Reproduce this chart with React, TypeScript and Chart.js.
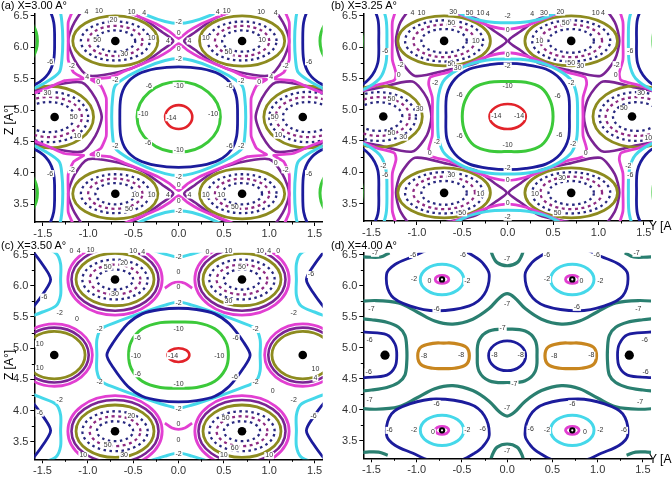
import React, { useEffect, useRef } from 'react';
import { Chart, registerables } from 'chart.js';

Chart.register(...registerables);

type P = [number, number];
type Lbl = [number, number, string];

// ---------------- axes ----------------
const xTickValues = [-1.5, -1.0, -0.5, 0.0, 0.5, 1.0, 1.5];
const zTickValues = [3.5, 4.0, 4.5, 5.0, 5.5, 6.0, 6.5];
const xMinorTicks = [-1.25, -0.75, -0.25, 0.25, 0.75, 1.25];
const zMinorTicks = [3.75, 4.25, 4.75, 5.25, 5.75, 6.25];
const yAxisRange: P = [-1.59, 1.59];
const zAxisRange: P = [3.22, 6.53];
const panelTags = ['(a)', '(b)', '(c)', '(d)'];
const panelNames = ['X=3.00 A°', 'X=3.25 A°', 'X=3.50 A°', 'X=4.00 A°'];

// ---------------- honeycomb lattice, panels (a)-(c) ----------------
const atomCenters: P[] = [[-0.7, 6.1], [0.7, 6.1], [-0.7, 3.67], [0.7, 3.67], [-1.37, 4.89], [1.37, 4.89]];
const atomBondDir = [1, -1, 1, -1, -1, 1];
const atomIsSide = [false, false, false, false, true, true];

// (a) X = 3.00
const aHolesMain: P[] = [[0, 4.89], [-2.02, 6.1], [2.02, 6.1], [-2.02, 3.68], [2.02, 3.68]];
const aHolesOuter: P[] = [[0, 7.31], [0, 2.47]];
const aRed: P = [0.15, 0.19];
const aGreenQ: P[] = [[0.46, 0], [0, 0.56]];
const aBlueQ: P[] = [[0.65, 0], [0.64, 0.3], [0.58, 0.52], [0.45, 0.68], [0.25, 0.77], [0, 0.8]];
const aCyanQ: P[] = [[0.74, 0], [0.73, 0.3], [0.7, 0.5], [0.55, 0.66], [0.35, 0.8], [0.15, 0.9], [0, 0.93]];
const aMagentaQ: P[] = [[0.8, 0], [0.8, 0.3], [0.86, 0.5], [0.97, 0.6], [0.76, 0.63], [0.6, 0.73], [0.41, 0.84], [0.23, 0.95], [0.1, 1.06], [0, 1.17]];
const aBondLoop: P[] = [[0.64, 0], [0.52, 0.14], [0.3, 0.36], [0.05, 0.49], [-0.3, 0.55], [-0.45, 0.3], [-0.52, 0], [-0.45, -0.3], [-0.3, -0.55], [0.05, -0.49], [0.3, -0.36], [0.52, -0.14]];
const aTopLevels = [50, 30, 20, 10];
const aTopRx = [0.22, 0.3, 0.38, 0.47];
const aTopRz = [0.17, 0.24, 0.31, 0.4];
const aSideLevels = [50, 30, 20, 10];
const aSideRx = [0.28, 0.36, 0.43, 0.49];
const aSideRz = [0.24, 0.32, 0.4, 0.49];
const aSideShift = 0.06;
const aLabels: Lbl[] = [
  [-0.08, 4.88, '-14'],
  [0, 5.39, '-10'], [-0.39, 4.93, '-10'], [0.38, 4.93, '-10'], [0, 4.36, '-10'],
  [-0.33, 5.39, '-6'], [0.56, 5.39, '-6'], [-0.34, 4.48, '-6'], [0.56, 4.43, '-6'],
  [0, 5.82, '-2'], [0, 3.94, '-2'], [0, 6.4, '-2'], [0, 3.4, '-2'],
  [-0.7, 5.48, '-2'], [0.69, 5.46, '-2'], [-0.7, 4.43, '-2'], [0.69, 4.43, '-2'],
  [-1.18, 5.7, '-2'], [1.18, 5.7, '-2'], [-1.18, 4.05, '-2'], [1.18, 4.05, '-2'],
  [-1.42, 5.77, '-6'], [1.44, 5.77, '-6'], [-1.42, 3.99, '-6'], [1.44, 3.99, '-6'],
  [0, 6.23, '0'], [0, 5.97, '0'], [0, 3.8, '0'], [0, 3.55, '0'],
  [-0.89, 5.45, '0'], [0.89, 5.45, '0'], [-0.89, 4.29, '0'], [1.07, 4.16, '0'],
  [-0.12, 6.1, '4'], [0.12, 6.1, '4'], [-0.12, 3.65, '4'], [0.12, 3.65, '4'],
  [-1.01, 5.53, '4'], [1.02, 5.53, '4'],
  [-0.3, 6.14, '10'], [0.3, 6.14, '10'], [-0.3, 3.65, '10'], [0.3, 3.65, '10'],
  [-1.02, 6.56, '4'], [-0.88, 6.58, '10'], [-0.52, 6.56, '10'], [-0.38, 6.55, '4'],
  [0.43, 6.56, '4'], [0.53, 6.58, '10'], [0.91, 6.56, '10'], [1.07, 6.55, '4'],
  [-0.72, 6.44, '20'], [-0.6, 5.89, '30'], [0.55, 5.92, '50'], [-0.9, 6.12, '50'], [0.92, 6.12, '10'],
  [-1.16, 4.89, '50'], [1.06, 4.89, '50'], [-1.45, 5.27, '30'], [1.1, 4.6, '10'], [-1.12, 4.58, '10'],
  [-0.48, 3.65, '10'], [0.47, 3.65, '10'], [-0.55, 3.42, '50'], [0.62, 3.45, '50'],
];

// (b) X = 3.25
const bHolesMain: P[] = [[0, 4.89], [-2.1, 6.1], [2.1, 6.1], [-2.1, 3.68], [2.1, 3.68]];
const bHolesOuter: P[] = [[0, 7.31], [0, 2.47]];
const bRed: P = [0.2, 0.2];
const bGreenQ: P[] = [[0.5, 0], [0.47, 0.25], [0.37, 0.46], [0.2, 0.55], [0, 0.56]];
const bBlueQ: P[] = [[0.68, 0], [0.67, 0.35], [0.58, 0.6], [0.42, 0.76], [0.2, 0.83], [0, 0.85]];
const bCyanQ: P[] = [[0.77, 0], [0.76, 0.35], [0.69, 0.6], [0.48, 0.8], [0.24, 0.9], [0, 0.92]];
const bMagentaQ: P[] = [[0.83, 0], [0.83, 0.3], [0.87, 0.52], [0.85, 0.63], [0.65, 0.71], [0.45, 0.83], [0.2, 0.97], [0, 1.02]];
const bBondLoop: P[] = [[0.69, 0], [0.56, 0.15], [0.35, 0.36], [0.05, 0.46], [-0.32, 0.56], [-0.48, 0.3], [-0.53, 0], [-0.48, -0.3], [-0.32, -0.56], [0.05, -0.46], [0.35, -0.36], [0.56, -0.15]];
const bTopLevels = [50, 30, 20, 10];
const bTopRx = [0.25, 0.34, 0.43, 0.51];
const bTopRz = [0.19, 0.26, 0.33, 0.4];
const bSideLevels = [50, 30, 20, 10];
const bSideRx = [0.26, 0.34, 0.41, 0.48];
const bSideRz = [0.23, 0.31, 0.39, 0.49];
const bSideShift = 0.05;
const bLabels: Lbl[] = [
  [-0.125, 4.89, '-14'], [0.125, 4.89, '-14'],
  [0, 5.37, '-10'], [0, 4.43, '-10'],
  [-0.53, 5.24, '-6'], [0.55, 5.22, '-6'], [-0.53, 4.58, '-6'], [0.57, 4.59, '-6'],
  [0, 5.7, '-2'], [0, 4.06, '-2'], [0, 6.5, '-2'], [0, 3.28, '-2'],
  [-0.8, 5.43, '-2'], [0.7, 5.43, '-2'], [-0.78, 4.48, '-2'], [0.72, 4.45, '-2'],
  [-1.18, 5.72, '-2'], [1.2, 5.72, '-2'], [-1.37, 4.1, '-2'], [1.33, 4.1, '-2'],
  [-1.35, 5.93, '-6'], [1.35, 5.93, '-6'], [-1.35, 3.95, '-6'], [1.35, 3.95, '-6'],
  [0, 6.28, '0'], [0, 5.88, '0'], [0, 3.87, '0'], [0, 3.5, '0'],
  [-1.2, 5.55, '0'], [1.19, 5.55, '0'], [-0.86, 4.3, '0'], [0.86, 4.3, '0'],
  [-1.05, 6.54, '4'], [-0.95, 6.55, '10'], [-0.6, 6.56, '30'], [-0.42, 6.55, '50'], [-0.3, 6.54, '10'], [-0.22, 6.53, '4'],
  [0.27, 6.53, '4'], [0.4, 6.55, '30'], [0.58, 6.56, '20'], [0.97, 6.54, '10'], [1.05, 6.54, '4'],
  [-0.62, 6.39, '50'], [0.64, 6.39, '50'], [-0.62, 5.73, '50'], [-0.55, 5.67, '30'], [0.7, 5.75, '50'], [0.8, 5.69, '30'],
  [-0.35, 6.1, '10'], [0.35, 6.1, '10'],
  [-1.28, 5.17, '50'], [-0.97, 5.01, '30'], [1.28, 5.02, '50'], [1.47, 5.26, '30'], [-1.28, 4.62, '50'], [-1.15, 4.56, '30'], [1.55, 4.55, '10'],
  [-0.62, 3.95, '30'], [0.6, 3.9, '30'], [-0.5, 3.35, '50'], [0.55, 3.35, '50'], [-0.3, 3.65, '10'], [0.3, 3.65, '10'],
];

// (c) X = 3.50
const cHolesMain: P[] = [[0, 4.89], [-2.2, 6.1], [2.2, 6.1], [-2.2, 3.68], [2.2, 3.68]];
const cHolesOuter: P[] = [[0, 7.31], [0, 2.47]];
const cRed: P = [0.12, 0.11];
const cGreenQ: P[] = [[0.55, 0], [0.52, 0.22], [0.4, 0.42], [0.2, 0.52], [0, 0.53]];
const cBlueQ: P[] = [[0.79, 0], [0.72, 0.2], [0.56, 0.5], [0.4, 0.66], [0.2, 0.73], [0, 0.75]];
const cCyanQ: P[] = [[0.9, 0], [0.9, 0.25], [0.85, 0.42], [0.7, 0.52], [0.4, 0.68], [0.15, 0.8], [0, 0.85]];
const cTopLevels = [50, 30, 20, 10, 4, 0];
const cTopRx = [0.2, 0.28, 0.36, 0.43, 0.48, 0.52];
const cTopRz = [0.16, 0.24, 0.32, 0.42, 0.5, 0.57];
const cSideLevels = [10, 4, 0];
const cSideRx = [0.34, 0.38, 0.42];
const cSideRz = [0.38, 0.44, 0.5];
const cSideShift = 0;
const cMagentaArcTop: P[] = [[-0.15, 5.96], [-0.07, 6.04], [0, 6.06], [0.07, 6.04], [0.15, 5.96]];
const cMagentaArcBottom: P[] = [[-0.15, 3.8], [-0.07, 3.72], [0, 3.7], [0.07, 3.72], [0.15, 3.8]];
const cLabels: Lbl[] = [
  [-0.06, 4.88, '-14'],
  [0, 5.3, '-10'], [-0.47, 4.88, '-10'], [0.45, 4.88, '-10'], [0, 4.43, '-10'],
  [-0.45, 5.17, '-6'], [0.63, 5.17, '-6'], [-0.45, 4.59, '-6'], [0.62, 4.54, '-6'],
  [0, 5.73, '-2'], [0, 4.03, '-2'], [0, 6.46, '-2'], [0, 3.31, '-2'],
  [-0.87, 5.3, '-2'], [0.85, 5.3, '-2'], [-0.87, 4.45, '-2'], [0.85, 4.45, '-2'],
  [-1.31, 5.57, '-2'], [1.27, 5.57, '-2'], [-1.31, 4.17, '-2'], [1.27, 4.17, '-2'],
  [-1.48, 5.82, '-6'], [1.46, 6.18, '-6'], [-1.53, 3.96, '-6'], [1.49, 3.92, '-6'],
  [0, 6.22, '0'], [0, 5.98, '0'], [0, 3.79, '0'], [0, 3.53, '0'], [-1.12, 5.46, '0'], [1.04, 4.31, '0'],
  [-1.53, 5.07, '10'], [-1.53, 4.68, '10'], [1.51, 4.66, '10'], [1.51, 4.52, '4'],
  [-1.18, 6.56, '0'], [-1.1, 6.56, '4'], [-0.97, 6.57, '10'], [-0.5, 6.55, '10'], [-0.39, 6.54, '4'],
  [0.32, 6.54, '0'], [0.55, 6.56, '10'], [0.9, 6.56, '10'], [1.0, 6.55, '4'], [1.1, 6.55, '0'],
  [-0.6, 6.36, '20'], [-0.78, 6.3, '50'], [0.7, 6.3, '50'], [-0.7, 5.86, '30'], [0.55, 5.75, '30'],
  [-0.52, 3.92, '20'], [0.52, 3.88, '50'], [-0.78, 3.45, '50'], [0.62, 3.4, '60'],
  [-1.05, 3.28, '10'], [-0.6, 3.28, '30'], [0.5, 3.28, '10'], [1.0, 3.28, '10'],
];

// (d) X = 4.00
const dSmallAtoms: P[] = [[-0.72, 6.1], [0.72, 6.1], [-0.72, 3.67], [0.72, 3.67]];
const dBigAtoms: P[] = [[-1.35, 4.88], [1.35, 4.88]];
const dMirrorZ = 4.885;
const dMagentaRing: P = [0.075, 0.065];
const dCyanRing: P = [0.24, 0.245];
const dNavyAtomLoop: P[] = [[0.522, 0.079], [0.449, 0.265], [0.357, 0.37], [0.2, 0.49], [0.02, 0.54], [-0.15, 0.48], [-0.32, 0.37], [-0.52, 0.24], [-0.613, 0.079], [-0.558, -0.266], [-0.357, -0.426], [-0.064, -0.505], [0.302, -0.426], [0.467, -0.24]];
const dNavyBigCurve: P[] = [[-1.75, 5.28], [-1.57, 5.25], [-1.33, 5.21], [-1.24, 5.06], [-1.22, 4.88], [-1.24, 4.69], [-1.33, 4.56], [-1.57, 4.52], [-1.75, 4.5]];
const dCenter: P = [0, 4.87];
const dNavyCenter: P = [0.205, 0.24];
const dTealCenterQ: P[] = [[0.33, 0], [0.31, 0.25], [0.2, 0.4], [0, 0.43]];
const dOrangeCenters: P[] = [[-0.703, 4.87], [0.703, 4.87]];
const dOrangeQ: P[] = [[0.285, 0], [0.25, 0.14], [0.12, 0.2], [0, 0.205]];
const dTealTop: P[] = [[-1.7, 5.74], [-1.45, 5.76], [-1.2, 5.72], [-1.0, 5.58], [-0.8, 5.43], [-0.6, 5.38], [-0.38, 5.46], [-0.2, 5.63], [-0.08, 5.81], [0, 5.87], [0.08, 5.81], [0.2, 5.63], [0.38, 5.46], [0.6, 5.38], [0.8, 5.43], [1.0, 5.58], [1.2, 5.72], [1.45, 5.76], [1.7, 5.74]];
const dTealSide: P[] = [[-1.7, 5.48], [-1.5, 5.45], [-1.33, 5.41], [-1.2, 5.33], [-1.13, 5.2], [-1.11, 5.0], [-1.11, 4.76], [-1.13, 4.56], [-1.2, 4.44], [-1.33, 4.36], [-1.5, 4.32], [-1.7, 4.29]];
const dTealCup: P[] = [[-0.2, 6.7], [-0.165, 6.5], [-0.11, 6.37], [0, 6.32], [0.11, 6.37], [0.165, 6.5], [0.2, 6.7]];
const dTealCornerTop: P[] = [[-1.7, 6.47], [-1.55, 6.46], [-1.4, 6.46], [-1.3, 6.53]];
const dTealCornerLow: P[] = [[-1.7, 3.3], [-1.55, 3.32], [-1.42, 3.32], [-1.32, 3.27]];
const dLabels: Lbl[] = [
  [0, 6.43, '-7'], [0, 5.7, '-7'], [-0.05, 5.32, '-7'], [0.08, 4.42, '-7'], [0, 4.03, '-7'], [0, 3.33, '-7'],
  [-1.5, 5.62, '-7'], [1.45, 5.62, '-7'], [-1.52, 4.15, '-7'], [1.47, 4.12, '-7'], [-1.46, 6.52, '-7'], [1.43, 6.52, '-7'],
  [-1.04, 6.5, '-6'], [-0.49, 6.5, '-6'], [0.44, 6.5, '-6'], [0.99, 6.5, '-6'],
  [-0.78, 5.62, '-6'], [0.77, 5.65, '-6'], [-0.78, 4.1, '-6'], [0.72, 4.1, '-6'],
  [-1.52, 5.13, '-6'], [-1.53, 4.61, '-6'], [1.52, 5.13, '-6'], [1.53, 4.61, '-6'],
  [-1.3, 3.67, '-6'], [-0.27, 3.69, '-6'], [0.26, 3.69, '-6'], [1.29, 3.67, '-6'],
  [-1.03, 6.1, '-2'], [-0.44, 6.07, '-2'], [0.44, 6.1, '-2'], [1.03, 6.08, '-2'],
  [-1.03, 3.67, '-2'], [-0.44, 3.67, '-2'], [0.44, 3.67, '-2'], [1.03, 3.67, '-2'],
  [-0.86, 6.08, '0'], [0.82, 6.08, '0'], [-0.82, 3.64, '0'], [0.86, 3.64, '0'],
  [-0.92, 4.87, '-8'], [-0.51, 4.88, '-8'], [0.52, 4.87, '-8'], [0.93, 4.88, '-8'], [-0.14, 4.89, '-8'], [0.15, 4.89, '-8'],
];

// ---------------- styles ----------------
interface Sty { color: string; width: number; dash?: number[] }
const STY: Record<string, Sty> = {
  red: { color: '#e2232a', width: 2.6 },
  green: { color: '#3cc93a', width: 3 },
  navy: { color: '#1c1c9c', width: 2.8 },
  cyan: { color: '#45d8ea', width: 3 },
  magenta: { color: '#e23fd2', width: 2.8 },
  purple: { color: '#7a2494', width: 2.6 },
  olive: { color: '#8d8b1f', width: 2.8 },
  dotNavy: { color: '#28287f', width: 2.3, dash: [2.5, 3.5] },
  dotPurple: { color: '#8e2a82', width: 2.3, dash: [3, 3.5] },
  teal: { color: '#2a7f70', width: 3.2 },
  orange: { color: '#c8861f', width: 3.2 },
};
const levelStyle: Record<string, string> = {
  '-14': 'red', '-10': 'green', '-6': 'navy', '-2': 'cyan', '0': 'magenta',
  '4': 'purple', '10': 'olive', '20': 'dotNavy', '30': 'dotPurple', '50': 'dotNavy',
};

// ---------------- helpers ----------------
function quadLoop(q: P[]): P[] {
  const n = q.length - 1;
  const out: P[] = [];
  for (let i = 0; i <= n; i++) out.push([q[i][0], q[i][1]]);
  for (let i = n - 1; i >= 0; i--) out.push([-q[i][0], q[i][1]]);
  for (let i = 1; i <= n; i++) out.push([-q[i][0], -q[i][1]]);
  for (let i = n - 1; i >= 1; i--) out.push([q[i][0], -q[i][1]]);
  return out;
}
function ell(r: P): P[] { return quadLoop([[r[0], 0], [0, r[1]]]); }
function place(loop: P[], c: P, fx = 1, fz = 1): P[] {
  return loop.map(([x, z]) => [c[0] + fx * x, c[1] + fz * z] as P);
}
function mirX(pts: P[]): P[] { return pts.map(([x, z]) => [-x, z] as P); }
function mirZ(pts: P[], zc: number): P[] { return pts.map(([x, z]) => [x, 2 * zc - z] as P); }

function curve(pts: P[], styName: string, closed: boolean, tension: number): any {
  const s = STY[styName];
  let d = pts;
  let last = -1;
  if (closed) {
    const n = pts.length;
    d = [pts[n - 1], ...pts, pts[0], pts[1]];
    last = d.length - 1;
  }
  const ds: any = {
    data: d.map(([x, z]) => ({ x, y: z })),
    showLine: true,
    borderColor: s.color,
    backgroundColor: s.color,
    borderWidth: s.width,
    borderDash: s.dash || [],
    borderCapStyle: 'butt',
    borderJoinStyle: 'round',
    pointRadius: 0,
    pointHoverRadius: 0,
    tension,
    fill: false,
    clip: 0,
    order: 1,
  };
  if (closed) {
    ds.segment = {
      borderColor: (c: any) => (c.p0DataIndex === 0 || c.p1DataIndex === last ? 'rgba(0,0,0,0)' : undefined),
    };
  }
  return ds;
}
function dots(pts: P[], r: number, color: string, order = -1): any {
  return {
    data: pts.map(([x, z]) => ({ x, y: z })),
    showLine: false,
    pointRadius: r,
    pointHoverRadius: r,
    pointBackgroundColor: color,
    pointBorderWidth: 0,
    backgroundColor: color,
    borderColor: color,
    order,
    clip: 0,
  };
}

interface HoneyCfg {
  holesMain: P[]; holesOuter: P[]; red: P; greenQ: P[]; greenT: number;
  blueQ: P[]; cyanQ: P[]; magentaQ?: P[]; magentaT?: number; bondLoop?: P[];
  topLevels: number[]; topRx: number[]; topRz: number[];
  sideLevels: number[]; sideRx: number[]; sideRz: number[]; sideShift: number;
  extras?: { pts: P[]; sty: string }[];
}
function buildHoney(o: HoneyCfg): any[] {
  const ds: any[] = [dots(atomCenters, 4.3, '#000')];
  o.holesMain.forEach((h) => {
    ds.push(curve(place(ell(o.red), h), 'red', true, 0.55));
    ds.push(curve(place(quadLoop(o.greenQ), h), 'green', true, o.greenT));
    ds.push(curve(place(quadLoop(o.blueQ), h), 'navy', true, 0.3));
    ds.push(curve(place(quadLoop(o.cyanQ), h), 'cyan', true, 0.3));
    if (o.magentaQ) ds.push(curve(place(quadLoop(o.magentaQ), h), 'magenta', true, o.magentaT || 0.15));
  });
  o.holesOuter.forEach((h) => {
    ds.push(curve(place(quadLoop(o.cyanQ), h), 'cyan', true, 0.3));
    if (o.magentaQ) ds.push(curve(place(quadLoop(o.magentaQ), h), 'magenta', true, o.magentaT || 0.15));
  });
  atomCenters.forEach((c, i) => {
    const side = atomIsSide[i];
    const lv = side ? o.sideLevels : o.topLevels;
    const rx = side ? o.sideRx : o.topRx;
    const rz = side ? o.sideRz : o.topRz;
    const rc: P = side ? [c[0] + o.sideShift * atomBondDir[i], c[1]] : c;
    lv.forEach((v, k) => ds.push(curve(place(ell([rx[k], rz[k]]), rc), levelStyle[String(v)], true, 0.55)));
    if (o.bondLoop) ds.push(curve(place(o.bondLoop, c, atomBondDir[i], 1), 'purple', true, 0.25));
  });
  (o.extras || []).forEach((e) => ds.push(curve(e.pts, e.sty, false, 0.35)));
  return ds;
}

function buildD(): any[] {
  const ds: any[] = [];
  ds.push(dots(dBigAtoms, 4.6, '#000'));
  ds.push(dots(dSmallAtoms, 3.2, '#000'));
  ds.push(dots(dSmallAtoms, 1.1, '#ffffff', -2));
  dSmallAtoms.forEach((c, i) => {
    const fx = i % 2 === 0 ? 1 : -1;
    const fz = i < 2 ? 1 : -1;
    ds.push(curve(place(ell(dMagentaRing), c), 'magenta', true, 0.55));
    ds.push(curve(place(ell(dCyanRing), c), 'cyan', true, 0.55));
    ds.push(curve(place(dNavyAtomLoop, c, fx, fz), 'navy', true, 0.35));
  });
  ds.push(curve(dNavyBigCurve, 'navy', false, 0.35));
  ds.push(curve(mirX(dNavyBigCurve), 'navy', false, 0.35));
  ds.push(curve(place(ell(dNavyCenter), dCenter), 'navy', true, 0.55));
  ds.push(curve(place(quadLoop(dTealCenterQ), dCenter), 'teal', true, 0.4));
  dOrangeCenters.forEach((c) => ds.push(curve(place(quadLoop(dOrangeQ), c), 'orange', true, 0.4)));
  ds.push(curve(dTealTop, 'teal', false, 0.35));
  ds.push(curve(mirZ(dTealTop, dMirrorZ), 'teal', false, 0.35));
  ds.push(curve(dTealSide, 'teal', false, 0.35));
  ds.push(curve(mirX(dTealSide), 'teal', false, 0.35));
  ds.push(curve(dTealCup, 'teal', false, 0.35));
  ds.push(curve(mirZ(dTealCup, dMirrorZ), 'teal', false, 0.35));
  ds.push(curve(dTealCornerTop, 'teal', false, 0.35));
  ds.push(curve(mirX(dTealCornerTop), 'teal', false, 0.35));
  ds.push(curve(dTealCornerLow, 'teal', false, 0.35));
  ds.push(curve(mirX(dTealCornerLow), 'teal', false, 0.35));
  return ds;
}

// ---------------- layout of the four panels ----------------
const boxes = [
  { left: 0, top: 0, w: 336, h: 240, padTop: 14, padRight: 13.3, yW: 34.7, xH: 18 },
  { left: 336, top: 0, w: 336, h: 240, padTop: 14, padRight: 20, yW: 27.3, xH: 19 },
  { left: 0, top: 240, w: 336, h: 239, padTop: 12.7, padRight: 13.3, yW: 34.3, xH: 19.7 },
  { left: 336, top: 240, w: 336, h: 239, padTop: 12.7, padRight: 21, yW: 27.3, xH: 20.7 },
];
const FONT = '"Liberation Sans", Arial, Helvetica, sans-serif';

function makeDecor(labels: Lbl[]) {
  return {
    id: 'decor',
    afterDatasetsDraw(chart: any) {
      const { ctx } = chart;
      const x = chart.scales.x;
      const y = chart.scales.y;
      ctx.save();
      ctx.font = '7px ' + FONT;
      ctx.textAlign = 'center';
      ctx.textBaseline = 'middle';
      for (const [lx, lz, t] of labels) {
        const px = x.getPixelForValue(lx);
        const py = y.getPixelForValue(lz);
        const w = ctx.measureText(t).width;
        ctx.fillStyle = '#ffffff';
        ctx.fillRect(px - w / 2 - 1, py - 3.5, w + 2, 7);
        ctx.fillStyle = '#333333';
        ctx.fillText(t, px, py);
      }
      ctx.restore();
    },
    afterDraw(chart: any) {
      const { ctx, chartArea: a } = chart;
      const x = chart.scales.x;
      const y = chart.scales.y;
      ctx.save();
      ctx.strokeStyle = '#000';
      ctx.lineWidth = 1;
      ctx.beginPath();
      for (const v of xMinorTicks) {
        const px = Math.round(x.getPixelForValue(v)) + 0.5;
        ctx.moveTo(px, a.bottom);
        ctx.lineTo(px, a.bottom + 2.5);
      }
      for (const v of zMinorTicks) {
        const py = Math.round(y.getPixelForValue(v)) + 0.5;
        ctx.moveTo(a.left, py);
        ctx.lineTo(a.left - 2.5, py);
      }
      ctx.stroke();
      ctx.restore();
    },
  };
}

function makeChart(canvas: HTMLCanvasElement, box: any, datasets: any[], labels: Lbl[]) {
  const tickFont = { family: FONT, size: 11 };
  return new Chart(canvas, {
    type: 'scatter',
    data: { datasets },
    options: {
      animation: false,
      responsive: false,
      maintainAspectRatio: false,
      devicePixelRatio: 1,
      events: [],
      layout: { padding: { left: 0, top: box.padTop, right: box.padRight, bottom: 0 } },
      plugins: { legend: { display: false }, tooltip: { enabled: false } },
      elements: { line: { capBezierPoints: false }, point: { radius: 0 } },
      scales: {
        x: {
          type: 'linear',
          min: yAxisRange[0],
          max: yAxisRange[1],
          afterBuildTicks: (s: any) => { s.ticks = xTickValues.map((v) => ({ value: v })); },
          afterFit: (s: any) => { s.height = box.xH; },
          ticks: { callback: (v: any) => Number(v).toFixed(1), color: '#333', font: tickFont, padding: 1, maxRotation: 0, minRotation: 0, autoSkip: false },
          grid: { display: true, drawOnChartArea: false, drawTicks: true, tickLength: 4, color: '#000', tickColor: '#000', tickWidth: 1 },
          border: { display: true, color: '#000', width: 1.5 },
        },
        y: {
          type: 'linear',
          min: zAxisRange[0],
          max: zAxisRange[1],
          afterBuildTicks: (s: any) => { s.ticks = zTickValues.map((v) => ({ value: v })); },
          afterFit: (s: any) => { s.width = box.yW; },
          ticks: { callback: (v: any) => Number(v).toFixed(1), color: '#333', font: tickFont, padding: 2, autoSkip: false },
          grid: { display: true, drawOnChartArea: false, drawTicks: true, tickLength: 4, color: '#000', tickColor: '#000', tickWidth: 1 },
          border: { display: true, color: '#000', width: 1.5 },
        },
      },
    } as any,
    plugins: [makeDecor(labels)],
  });
}

export default function App() {
  const r0 = useRef<HTMLCanvasElement>(null);
  const r1 = useRef<HTMLCanvasElement>(null);
  const r2 = useRef<HTMLCanvasElement>(null);
  const r3 = useRef<HTMLCanvasElement>(null);
  const refs = [r0, r1, r2, r3];

  useEffect(() => {
    const sets = [
      buildHoney({
        holesMain: aHolesMain, holesOuter: aHolesOuter, red: aRed, greenQ: aGreenQ, greenT: 0.55,
        blueQ: aBlueQ, cyanQ: aCyanQ, magentaQ: aMagentaQ, magentaT: 0.15, bondLoop: aBondLoop,
        topLevels: aTopLevels, topRx: aTopRx, topRz: aTopRz,
        sideLevels: aSideLevels, sideRx: aSideRx, sideRz: aSideRz, sideShift: aSideShift,
      }),
      buildHoney({
        holesMain: bHolesMain, holesOuter: bHolesOuter, red: bRed, greenQ: bGreenQ, greenT: 0.3,
        blueQ: bBlueQ, cyanQ: bCyanQ, magentaQ: bMagentaQ, magentaT: 0.25, bondLoop: bBondLoop,
        topLevels: bTopLevels, topRx: bTopRx, topRz: bTopRz,
        sideLevels: bSideLevels, sideRx: bSideRx, sideRz: bSideRz, sideShift: bSideShift,
      }),
      buildHoney({
        holesMain: cHolesMain, holesOuter: cHolesOuter, red: cRed, greenQ: cGreenQ, greenT: 0.3,
        blueQ: cBlueQ, cyanQ: cCyanQ,
        topLevels: cTopLevels, topRx: cTopRx, topRz: cTopRz,
        sideLevels: cSideLevels, sideRx: cSideRx, sideRz: cSideRz, sideShift: cSideShift,
        extras: [{ pts: cMagentaArcTop, sty: 'magenta' }, { pts: cMagentaArcBottom, sty: 'magenta' }],
      }),
      buildD(),
    ];
    const labelSets = [aLabels, bLabels, cLabels, dLabels];
    const charts = refs.map((r, i) => makeChart(r.current as HTMLCanvasElement, boxes[i], sets[i], labelSets[i]));
    return () => charts.forEach((c) => c.destroy());
  }, []);

  const textBase: any = { position: 'absolute', fontFamily: FONT, color: '#000', whiteSpace: 'nowrap' };
  const titlePos = [[1, -1], [331, -1], [1, 239], [331, 239]];
  return (
    <div style={{ position: 'absolute', left: 0, top: 0, width: 672, height: 479, overflow: 'hidden', background: '#fff' }}>
      {boxes.map((b, i) => (
        <canvas key={i} ref={refs[i]} width={b.w} height={b.h}
          style={{ position: 'absolute', left: b.left, top: b.top, width: b.w, height: b.h, display: 'block' }} />
      ))}
      {titlePos.map((p, i) => (
        <div key={'t' + i} style={{ ...textBase, left: p[0], top: p[1], fontSize: 11, lineHeight: '13px' }}>
          {panelTags[i]} {panelNames[i]}
        </div>
      ))}
      {[120, 365].map((cy, i) => (
        <div key={'z' + i} style={{ ...textBase, left: 9, top: cy, fontSize: 12, lineHeight: '14px', transform: 'translate(-50%, -50%) rotate(-90deg)' }}>
          Z [A°]
        </div>
      ))}
      {[219, 452].map((ty, i) => (
        <div key={'y' + i} style={{ ...textBase, left: 649, top: ty, fontSize: 12, lineHeight: '14px' }}>
          Y [A°]
        </div>
      ))}
    </div>
  );
}
